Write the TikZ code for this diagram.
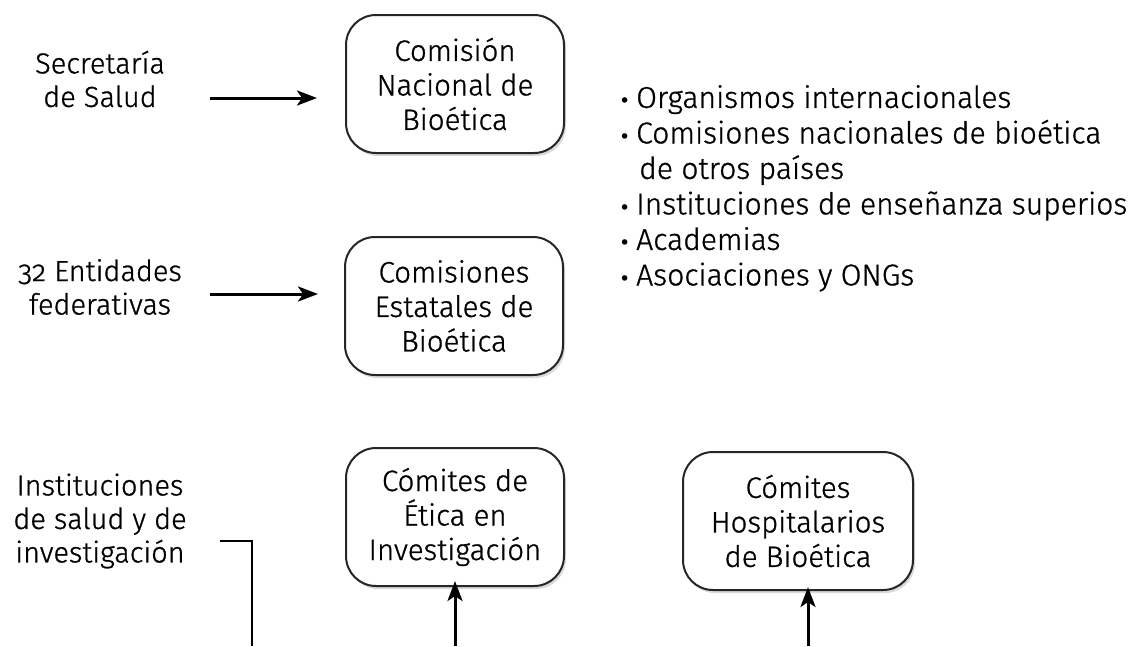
\documentclass[tikz,border=0pt]{standalone}
\usepackage{fontspec}
\setmainfont{Fira Sans Light}[Numbers=OldStyle,FakeBold=0.9,UprightFeatures={FakeBold=0.9}]
\newfontfamily\dvfont{DejaVu Sans}
\usetikzlibrary{arrows.meta,shadows}
\newcommand\mybul{\makebox[17pt][l]{{\dvfont\fontsize{19}{19}\selectfont •}}}
\begin{document}
\begin{tikzpicture}[x=1pt,y=-1pt,
  box/.style={draw=black!85, line width=2pt, rounded corners=30pt, fill=white,
    minimum width=218pt, minimum height=138pt, align=center, inner sep=0pt,
    font=\fontsize{29.5}{34.5}\selectfont,
    drop shadow={shadow xshift=2pt, shadow yshift=-3pt, opacity=0.25, fill=black!60}},
  lbl/.style={align=center, inner sep=0pt, font=\fontsize{29}{33.5}\selectfont},
  arr/.style={line width=3pt, -{Stealth[length=20pt,width=15pt,inset=5pt]}},
  ln/.style={line width=2.6pt}
]
\useasboundingbox (0,0) rectangle (1132,646);
\node[box] (cnb) at (455,84) {Comisión\\Nacional de\\Bioética};
\node[box] (ceb) at (454,306) {Comisiones\\Estatales de\\Bioética};
\node[box] (cei) at (455,517) {Cómites de\\Ética en\\Investigación};
\node[box, minimum width=230pt] (chb) at (798,521) {Cómites\\Hospitalarios\\de Bioética};

\node[lbl] (ss) at (100,79) {Secretaría\\de Salud};
\node[lbl] (ef) at (100,287) {32 Entidades\\federativas};
\node[lbl] (is) at (100,521) {Instituciones\\de salud y de\\investigación};

\node[anchor=north west, inner sep=0pt, align=left, font=\fontsize{30.1}{35.5}\selectfont] (list) at (619,85)
{\mybul Organismos internacionales\\
\mybul Comisiones nacionales de bioética\\
\hspace*{20pt}de otros países\\
\mybul Instituciones de enseñanza superios\\
\mybul Academias\\
\mybul Asociaciones y ONGs};

\coordinate (a1) at (210,98);
\draw[arr] (a1) -- ([xshift=-28pt]cnb.west |- a1);
\coordinate (a2) at (210,294);
\draw[arr] (a2) -- ([xshift=-26pt]ceb.west |- a2);
\coordinate (l1) at (220,541);
\coordinate (l2) at (252,646);
\draw[ln] (l1) -| (l2);
\coordinate (b1) at (455,646);
\draw[arr] (b1) -- ([yshift=6pt]cei.south);
\coordinate (b2) at (808,646);
\draw[arr] (b2) -- ([yshift=4pt]chb.south -| b2);
\end{tikzpicture}
\end{document}
